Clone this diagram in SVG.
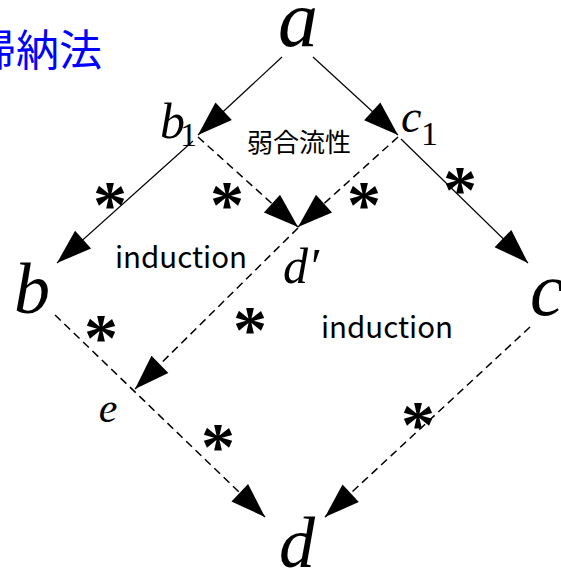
<svg xmlns="http://www.w3.org/2000/svg" width="561" height="569" viewBox="0 0 561 569">
<defs>
<marker id="ah" markerUnits="userSpaceOnUse" markerWidth="36" markerHeight="26" refX="35" refY="12" orient="auto" overflow="visible">
<path d="M0,0 L35,12 L0,24 z" fill="#000"/>
</marker>
<style>
.s{stroke:#000;stroke-width:1.2;fill:none}
.d{stroke:#000;stroke-width:1.5;fill:none;stroke-dasharray:8 5}
.v{font-family:"Liberation Serif","Times New Roman",serif;font-style:italic;fill:#000}
.n{font-family:"Liberation Serif","Times New Roman",serif;fill:#000}
.ast{font-family:"Liberation Serif","Times New Roman",serif;font-size:68px;font-weight:bold;fill:#000;text-anchor:middle}
.lb{font-family:"Noto Sans CJK JP","Noto Sans",sans-serif;fill:#000}
</style>
</defs>
<rect width="561" height="569" fill="#fff"/>
<text x="102" y="66" font-family="Noto Sans CJK JP,Noto Sans,sans-serif" font-size="43" fill="#0000ff" text-anchor="end">帰納法</text>
<g id="connectors">
<line class="s" x1="282" y1="57" x2="198" y2="135" marker-end="url(#ah)"/>
<line class="s" x1="313" y1="57" x2="398" y2="135" marker-end="url(#ah)"/>
<line class="s" x1="193" y1="141" x2="57" y2="263" marker-end="url(#ah)"/>
<line class="s" x1="401" y1="139" x2="528" y2="263" marker-end="url(#ah)"/>
<line class="d" x1="198" y1="137" x2="298" y2="227" marker-end="url(#ah)"/>
<line class="d" x1="398" y1="137" x2="298" y2="227" marker-end="url(#ah)"/>
<line class="d" x1="298" y1="228" x2="135" y2="389" marker-end="url(#ah)"/>
<line class="d" x1="55" y1="315" x2="265" y2="517" marker-end="url(#ah)"/>
<line class="d" x1="530" y1="327" x2="325" y2="517" marker-end="url(#ah)"/>
</g>
<g id="node-a"><text class="v" x="298" y="46" font-size="80" text-anchor="middle">a</text></g>
<g id="node-b1"><text class="v" x="160" y="138" font-size="50">b</text><text class="n" x="180" y="146" font-size="34">1</text></g>
<g id="node-c1"><text class="v" x="401" y="132" font-size="46">c</text><text class="n" x="421" y="145" font-size="34">1</text></g>
<g id="node-b"><text class="v" x="32" y="313" font-size="72" text-anchor="middle">b</text></g>
<g id="node-c"><text class="v" x="530" y="315" font-size="76">c</text></g>
<g id="node-dp"><text class="v" x="283" y="283" font-size="50">d′</text></g>
<g id="node-e"><text class="v" x="108" y="422" font-size="42" text-anchor="middle">e</text></g>
<g id="node-d"><text class="v" x="297" y="567" font-size="72" text-anchor="middle">d</text></g>
<g id="labels">
<text class="lb" x="299" y="152" font-size="26" text-anchor="middle">弱合流性</text>
<text class="lb" x="181" y="268" font-size="29.5" text-anchor="middle">induction</text>
<text class="lb" x="387" y="338" font-size="29.5" text-anchor="middle">induction</text>
<text class="ast" x="110" y="227">*</text>
<text class="ast" x="227" y="227">*</text>
<text class="ast" x="364" y="227">*</text>
<text class="ast" x="460" y="212">*</text>
<text class="ast" x="101" y="360">*</text>
<text class="ast" x="250" y="352">*</text>
<text class="ast" x="218" y="469">*</text>
<text class="ast" x="418" y="447">*</text>
</g>
</svg>
